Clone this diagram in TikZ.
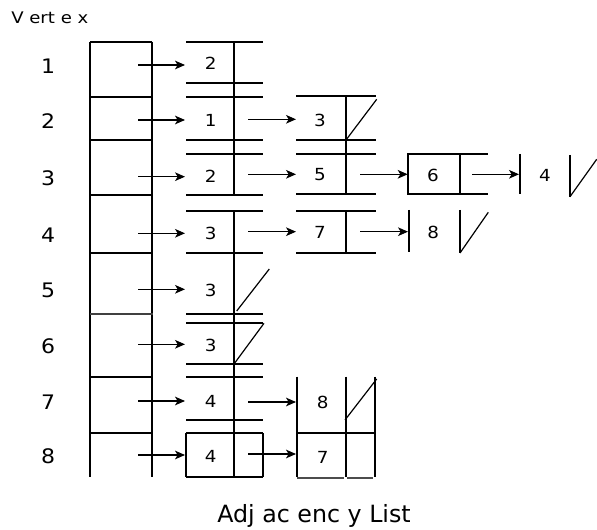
\documentclass[tikz,border=0pt]{standalone}
\usepackage{fontspec}
\usepackage{graphicx}
\setmainfont{DejaVu Sans}
\usetikzlibrary{arrows.meta}
\newcommand{\wtxt}[1]{\scalebox{1.1}[1]{#1}}
\begin{document}
\begin{tikzpicture}[x=0.75pt,y=-0.75pt,
  cell/.style={line width=1.5pt},
  ptr/.style={line width=0.8pt,-{Stealth[length=7.5pt,width=6.5pt,inset=2pt]}},
  slash/.style={line width=0.9pt},
  vlab/.style={font=\fontsize{15}{17}\selectfont, inner sep=0pt},
  dlab/.style={font=\fontsize{12.5}{14}\selectfont, inner sep=0pt}]
\useasboundingbox (0,0) rectangle (597,530);

% titles
\node[font=\fontsize{12}{14}\selectfont, anchor=base west, inner sep=0pt] (ttl) at (11,23.3) {\scalebox{1.13}[1]{V ert e x}};
\node[font=\fontsize{17.8}{20}\selectfont, anchor=base, inner sep=0pt] (cap) at (314,523) {Adj ac enc y List};

% vertex column
\draw[cell] (90,41.7) -- (90,476.7);
\draw[cell] (152,41.7) -- (152,476.7);
\foreach \y in {41.7,96.7,140,195,252.7,376.7,433.3}
  \draw[cell] (90,\y) -- (152,\y);
\draw[cell, black!75] (90,314.3) -- (153,314.3);

% vertex labels and first arrows
\foreach \i/\y in {1/65,2/120,3/176.7,4/233.3,5/289.3,6/344.3,7/401,8/455}{
  \node[vlab] (v\i) at (48,{\y+1.5}) {\wtxt{\i}};
  \coordinate (p\i) at (138,\y);
  \coordinate (q\i) at (185,\y);
  \draw[ptr] (p\i) -- (q\i);
}

% first list column
\foreach \y in {41.7,82.7,96.7,140,154.3,195,210.7,252.7,314.3,322.7,364,376.7,420,433.3,476.7}
  \draw[cell] (186,\y) -- (263,\y);
\draw[cell] (186,433.3) -- (186,476.7);
\draw[cell] (263,433.3) -- (263,476.7);
\draw[cell] (234,41.7) -- (234,195);
\draw[cell] (234,210.7) -- (234,476.7);
\draw[slash] (236.7,311) -- (269.3,269);
\draw[slash] (234,364) -- (264,323.3);
\foreach \i/\d/\y in {1/2/63.5,2/1/120,3/2/176,4/3/233,5/3/290,6/3/345,7/4/401,8/4/456.5}
  \node[dlab] (a\i) at (210.7,\y) {\wtxt{\d}};

% second list column
\foreach \y in {96,140,154.3,194.3,210.7,252.7}
  \draw[cell] (296,\y) -- (375.7,\y);
\draw[cell] (346,96) -- (346,194.3);
\draw[cell] (346,210.7) -- (346,252.7);
\draw[slash] (346,140) -- (376.7,99.3);
\draw[cell] (297.3,376.7) -- (297.3,476.7);
\draw[cell] (346,376.7) -- (346,476.7);
\draw[cell] (375,376.7) -- (375,476.7);
\draw[cell] (297.3,433.3) -- (375,433.3);
\draw[line width=0.8pt, black!70] (297,478) -- (344,478);
\draw[line width=0.8pt, black!70] (347,478) -- (373,478);
\draw[slash] (345,420) -- (376.7,379);
\node[dlab] (b2) at (320,120) {\wtxt{3}};
\node[dlab] (b3) at (320,175) {\wtxt{5}};
\node[dlab] (b4) at (320,232.5) {\wtxt{7}};
\node[dlab] (b7) at (322.7,402) {\wtxt{8}};
\node[dlab] (b8) at (322.7,457.5) {\wtxt{7}};

% arrows column 1 -> column 2
\foreach \r/\y in {2/119.3,3/174.3,4/231.7,7/402,8/454}{
  \coordinate (s\r) at (248.3,\y);
  \coordinate (t\r) at (296,\y);
  \draw[ptr] (s\r) -- (t\r);
}

% third list column
\coordinate (u3) at (360,174.3); \coordinate (w3) at (407.7,174.3);
\draw[ptr] (u3) -- (w3);
\draw[cell] (407.7,154.3) rectangle (460,194.3);
\draw[cell] (460,154.3) -- (487.7,154.3);
\draw[cell] (460,194.3) -- (487.7,194.3);
\node[dlab] (c3) at (433,175) {\wtxt{6}};
\coordinate (u4) at (360,231.7); \coordinate (w4) at (408,231.7);
\draw[ptr] (u4) -- (w4);
\draw[cell] (409,210) -- (409,251.7);
\node[dlab] (c4) at (433.3,232.5) {\wtxt{8}};
\draw[line width=2.2pt] (460,210) -- (460,253.3);
\draw[slash] (460,253) -- (488.3,212.3);

% fourth list column
\coordinate (x3) at (472.3,174.3); \coordinate (y3) at (519,174.3);
\draw[ptr] (x3) -- (y3);
\draw[cell] (520,154) -- (520,194.3);
\node[dlab] (d3) at (545,175.5) {\wtxt{4}};
\draw[cell] (570,155) -- (570,196.7);
\draw[slash] (570,196.7) -- (596.7,159.3);
\end{tikzpicture}
\end{document}
